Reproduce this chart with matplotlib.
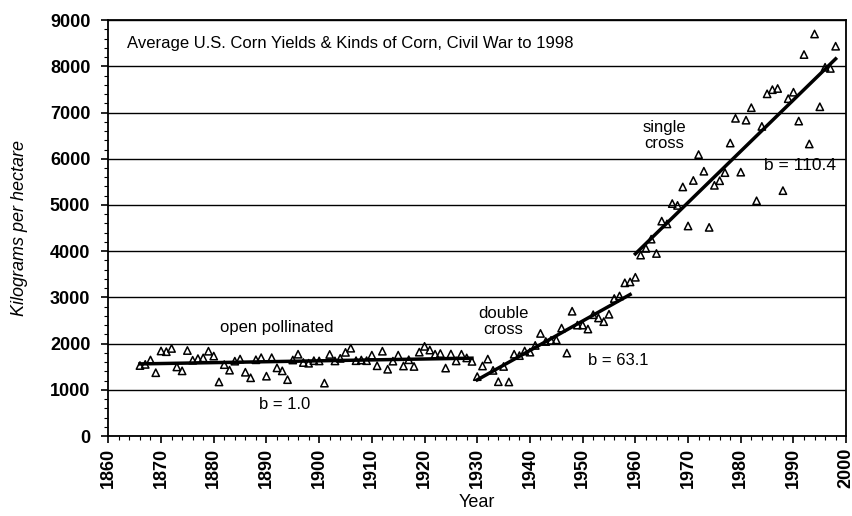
import matplotlib.pyplot as plt
import numpy as np

# average US corn yields, kg/ha
years = np.arange(1866, 1999)
yields = [
    1525, 1550, 1645, 1370, 1840, 1825, 1895, 1495, 1410, 1850,   # 1866-1875
    1640, 1675, 1690, 1835, 1730, 1170, 1545, 1425, 1620, 1665,   # 1876-1885
    1380, 1260, 1650, 1695, 1295, 1695, 1475, 1410, 1220, 1645,   # 1886-1895
    1770, 1590, 1575, 1630, 1625, 1145, 1765, 1625, 1680, 1810,   # 1896-1905
    1900, 1630, 1645, 1630, 1750, 1520, 1835, 1445, 1620, 1750,   # 1906-1915
    1515, 1650, 1505, 1815, 1940, 1860, 1770, 1785, 1470, 1775,   # 1916-1925
    1625, 1770, 1690, 1615,                                       # 1926-1929
    1285, 1515, 1665, 1420, 1175, 1505, 1170, 1770, 1740, 1840,   # 1930-1939
    1815, 1960, 2220, 2045, 2070, 2080, 2335, 1795, 2700, 2400,   # 1940-1949
    2400, 2315, 2625, 2555, 2475, 2635, 2975, 3030, 3315, 3335,   # 1950-1959
    3435, 3915, 4060, 4260, 3950, 4650, 4590, 5030, 4990, 5390,   # 1960-1969
    4545, 5530, 6090, 5730, 4515, 5425, 5525, 5700, 6340, 6875,   # 1970-1979
    5710, 6835, 7105, 5090, 6700, 7405, 7495, 7520, 5310, 7300,   # 1980-1989
    7440, 6815, 8255, 6320, 8700, 7125, 7980, 7955, 8435,         # 1990-1998
]
yields = np.array(yields)

# eras of corn breeding
eras = [(1866, 1929), (1930, 1959), (1960, 1998)]

plt.rcParams['font.family'] = ['Liberation Sans', 'DejaVu Sans']

fig = plt.figure(figsize=(8.53, 5.16), dpi=100)
ax = fig.add_axes([0.127, 0.155, 0.865, 0.806])

ax.scatter(years, yields, marker='^', s=28, facecolors='none',
           edgecolors='black', linewidths=1.1, zorder=3)

# linear trend within each era
for start, end in eras:
    m = (years >= start) & (years <= end)
    b, a = np.polyfit(years[m], yields[m], 1)
    xs = np.array([start, end])
    ax.plot(xs, a + b * xs, color='black', linewidth=2.5, zorder=4)

ax.set_xlim(1860, 2000)
ax.set_ylim(0, 9000)
ax.set_xticks(np.arange(1860, 2001, 10))
ax.set_xticks(np.arange(1860, 2001, 2), minor=True)
ax.set_yticks(np.arange(0, 9001, 1000))
ax.set_yticks(np.arange(0, 9001, 200), minor=True)
ax.yaxis.grid(True, color='black', linewidth=1.0)
ax.set_axisbelow(True)

for lab in ax.get_xticklabels():
    lab.set_rotation(90)
ax.tick_params(axis='both', which='major', labelsize=13, length=5, width=1.2)
ax.tick_params(axis='y', which='major', pad=8)
ax.tick_params(axis='both', which='minor', length=3, width=0.8)
for lab in ax.get_xticklabels() + ax.get_yticklabels():
    lab.set_fontweight('bold')
for s in ax.spines.values():
    s.set_linewidth(1.3)

ax.set_xlabel('Year', fontsize=13, labelpad=4)
ax.set_ylabel('Kilograms per hectare', fontsize=13, style='italic', labelpad=16)

ax.text(1863.5, 8500, 'Average U.S. Corn Yields & Kinds of Corn, Civil War to 1998',
        fontsize=12, va='center')
ax.text(1892, 2350, 'open pollinated', fontsize=12, ha='center', va='center')
ax.text(1893.5, 680, 'b = 1.0', fontsize=12, ha='center', va='center')
ax.text(1935, 2470, 'double\ncross', fontsize=12, ha='center', va='center',
        linespacing=1.1)
ax.text(1956.8, 1630, 'b = 63.1', fontsize=12, ha='center', va='center')
ax.text(1965.5, 6500, 'single\ncross', fontsize=12, ha='center', va='center',
        linespacing=1.1)
ax.text(1991.3, 5850, 'b = 110.4', fontsize=12.5, ha='center', va='center')

plt.savefig('out.png', dpi=100)
